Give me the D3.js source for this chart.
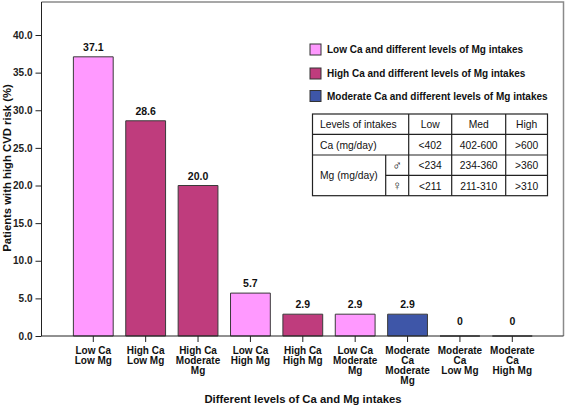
<!DOCTYPE html>
<html><head><meta charset="utf-8">
<script src="https://cdn.jsdelivr.net/npm/d3@7/dist/d3.min.js"></script>
<style>body{margin:0;background:#fff}svg{display:block}text{font-family:"Liberation Sans",Arial,sans-serif}</style>
</head><body><svg id="c" width="567" height="407"></svg>
<script>
const categories = [["Low Ca","Low Mg"],["High Ca","Low Mg"],["High Ca","Moderate","Mg"],["Low Ca","High Mg"],["High Ca","High Mg"],["Low Ca","Moderate","Mg"],["Moderate","Ca","Moderate","Mg"],["Moderate","Ca","Low Mg"],["Moderate","Ca","High Mg"]];
const values = [37.1, 28.6, 20.0, 5.7, 2.9, 2.9, 2.9, 0, 0];
const valueLabels = ["37.1","28.6","20.0","5.7","2.9","2.9","2.9","0","0"];
const groups = ["low","high","high","low","high","low","moderate","moderate","moderate"];
const yTicks = [0,5,10,15,20,25,30,35,40];
const legendLabels = ["Low Ca and different levels of Mg intakes","High Ca and different levels of Mg intakes","Moderate Ca and different levels of Mg intakes"];
const legendKeys = ["low","high","moderate"];
const tableHeader = ["Levels of intakes","Low","Med","High"];
const tableCa = ["Ca (mg/day)","<402","402-600",">600"];
const tableMgLabel = "Mg (mg/day)";
const tableMgMale = ["\u2642","<234","234-360",">360"];
const tableMgFemale = ["\u2640","<211","211-310",">310"];

const colors = {low:"#FF99FF", high:"#BF3C7D", moderate:"#3E56A8"};
const svg = d3.select("#c");
const x = d3.scaleBand().domain(d3.range(categories.length)).range([67.1,538.5]).paddingInner(0.24).paddingOuter(0.12);
const y = d3.scaleLinear().domain([0,40]).range([336,35]);
const frameTop = 2, frameLeft = 41.5, frameRight = 563.5;

// frame
svg.append("path").attr("d",`M${frameLeft},${frameTop}H${frameRight}V${y(0)}`).attr("fill","none").attr("stroke","#8a8a8a").attr("stroke-width",1.5);

// bars
svg.append("g").selectAll("path").data(values).join("path")
  .attr("d",(d,i)=>{const x0=x(i),w=x.bandwidth(),y0=y(0),y1=y(d);return `M${x0},${y0}V${y1}H${x0+w}V${y0}Z`;})
  .attr("fill",(d,i)=>colors[groups[i]]).attr("stroke","#3a3a3a").attr("stroke-width",1);

// value labels
svg.append("g").selectAll("text").data(values).join("text")
  .attr("x",(d,i)=>x(i)+x.bandwidth()/2).attr("y",d=>d>0?y(d)-6:y(d)-11)
  .attr("text-anchor","middle").attr("font-size",10.5).attr("font-weight","bold").attr("fill","#111")
  .text((d,i)=>valueLabels[i]);

// y axis
const ya = svg.append("g").attr("transform",`translate(${frameLeft},0)`)
  .call(d3.axisLeft(y).tickValues(yTicks).tickFormat(d3.format(".1f")).tickSize(6).tickSizeOuter(0).tickPadding(3));
ya.select(".domain").remove();
ya.selectAll("line").attr("stroke","#222");
ya.selectAll("text").attr("font-size",10).attr("font-weight","bold").attr("fill","#222").attr("font-family","Liberation Sans, Arial, sans-serif");
svg.append("line").attr("x1",frameLeft).attr("x2",frameLeft).attr("y1",frameTop).attr("y2",y(0)).attr("stroke","#222").attr("stroke-width",1);
svg.append("line").attr("x1",frameLeft).attr("x2",frameRight).attr("y1",y(0)).attr("y2",y(0)).attr("stroke","#222").attr("stroke-width",1);

// x axis ticks & labels
const xg = svg.append("g");
categories.forEach((c,i)=>{
  const cx = x(i)+x.bandwidth()/2;
  xg.append("line").attr("x1",cx).attr("x2",cx).attr("y1",y(0)).attr("y2",y(0)+6).attr("stroke","#222");
  const t = xg.append("text").attr("x",cx).attr("y",353.5).attr("text-anchor","middle").attr("font-size",10).attr("font-weight","bold").attr("fill","#111");
  c.forEach((l,j)=>t.append("tspan").attr("x",cx).attr("dy",j?10:0).text(l));
});

// axis titles
svg.append("text").attr("x",303).attr("y",403).attr("text-anchor","middle").attr("font-size",11.3).attr("font-weight","bold").attr("fill","#111").text("Different levels of Ca and Mg intakes");
svg.append("text").attr("transform","translate(10.5,168) rotate(-90)").attr("text-anchor","middle").attr("font-size",11.3).attr("font-weight","bold").attr("fill","#111").text("Patients with high CVD risk (%)");

// legend
const lg = svg.append("g");
const legendY = [49.5,73.5,96];
legendKeys.forEach((k,i)=>{
  lg.append("rect").attr("x",310).attr("y",legendY[i]-5.5).attr("width",11).attr("height",11).attr("fill",colors[k]).attr("stroke","#333");
  lg.append("text").attr("x",327).attr("y",legendY[i]+3.6).attr("font-size",10).attr("font-weight","bold").attr("fill","#111").text(legendLabels[i]);
});

// table
const tb = svg.append("g").attr("stroke","#222").attr("stroke-width",1.2);
const tx0=312.5, tx1=547.5, colX=[408.7,451.7,505.7], subX=385.7, rowY=[114,134.3,155,175.3,195.7];
tb.append("rect").attr("x",tx0).attr("y",rowY[0]).attr("width",tx1-tx0).attr("height",rowY[4]-rowY[0]).attr("fill","#fff");
tb.append("line").attr("x1",tx0).attr("x2",tx1).attr("y1",rowY[1]).attr("y2",rowY[1]);
tb.append("line").attr("x1",tx0).attr("x2",tx1).attr("y1",rowY[2]).attr("y2",rowY[2]);
tb.append("line").attr("x1",subX).attr("x2",tx1).attr("y1",rowY[3]).attr("y2",rowY[3]);
colX.forEach(cx=>tb.append("line").attr("x1",cx).attr("x2",cx).attr("y1",rowY[0]).attr("y2",rowY[4]));
tb.append("line").attr("x1",subX).attr("x2",subX).attr("y1",rowY[2]).attr("y2",rowY[4]);
const tt = svg.append("g").attr("font-size",10.3).attr("fill","#111");
const colC=[(colX[0]+colX[1])/2,(colX[1]+colX[2])/2,(colX[2]+tx1)/2];
function row(vals,ry,firstX,firstAnchor,firstSize){
  const f = tt.append("text").attr("x",firstX).attr("y",ry+4).attr("text-anchor",firstAnchor).text(vals[0]);
  if(firstSize) f.attr("font-size",firstSize).attr("y",ry+4.5);
  vals.slice(1).forEach((v,j)=>tt.append("text").attr("x",colC[j]).attr("y",ry+4).attr("text-anchor","middle").text(v));
}
row(tableHeader,(rowY[0]+rowY[1])/2,320,"start");
row(tableCa,(rowY[1]+rowY[2])/2,320,"start");
tt.append("text").attr("x",320).attr("y",rowY[2]+24).text(tableMgLabel);
row(tableMgMale,(rowY[2]+rowY[3])/2,(subX+colX[0])/2,"middle",13);
row(tableMgFemale,(rowY[3]+rowY[4])/2,(subX+colX[0])/2,"middle",13);
</script></body></html>
